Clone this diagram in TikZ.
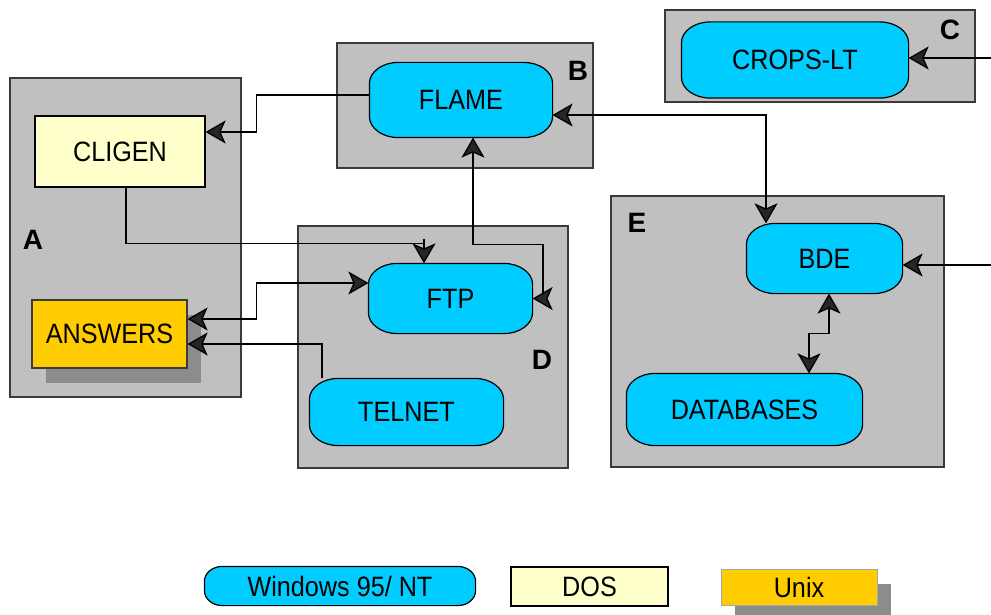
\documentclass[tikz,border=0pt]{standalone}
\usepackage{fontspec}
\newfontfamily\lblfont{Liberation Sans}[FakeStretch=0.9]
\newfontfamily\grpfont{Liberation Sans}
\usetikzlibrary{arrows.meta,shadows}
\definecolor{grpgray}{HTML}{C0C0C0}
\definecolor{winblue}{HTML}{00CCFF}
\definecolor{dosyellow}{HTML}{FFFFCC}
\definecolor{unixorange}{HTML}{FFCC00}
\definecolor{shadowgray}{HTML}{8C8C8C}
\definecolor{edgegray}{HTML}{3A3A3A}

\makeatletter
\def\stadrx{29pt}\def\stadry{21pt}
\tikzset{stad rx/.code={\def\stadrx{#1}},stad ry/.code={\def\stadry{#1}}}
\pgfdeclareshape{stadium}{%
  \inheritsavedanchors[from=rectangle]
  \inheritanchorborder[from=rectangle]
  \inheritanchor[from=rectangle]{center}
  \inheritanchor[from=rectangle]{north}
  \inheritanchor[from=rectangle]{south}
  \inheritanchor[from=rectangle]{east}
  \inheritanchor[from=rectangle]{west}
  \inheritanchor[from=rectangle]{north east}
  \inheritanchor[from=rectangle]{north west}
  \inheritanchor[from=rectangle]{south east}
  \inheritanchor[from=rectangle]{south west}
  \inheritanchor[from=rectangle]{base}
  \inheritanchor[from=rectangle]{mid}
  \backgroundpath{%
    \southwest \pgf@xa=\pgf@x \pgf@ya=\pgf@y
    \northeast \pgf@xb=\pgf@x \pgf@yb=\pgf@y
    \pgfmathsetlength\pgf@xc{\stadrx}%
    \pgfmathsetlength\pgf@yc{\stadry}%
    \advance\pgf@xa by \pgf@xc
    \advance\pgf@xb by -\pgf@xc
    \advance\pgf@ya by \pgf@yc
    \advance\pgf@yb by -\pgf@yc
    \edef\st@xa{\the\pgf@xa}\edef\st@xb{\the\pgf@xb}%
    \edef\st@ya{\the\pgf@ya}\edef\st@yb{\the\pgf@yb}%
    \edef\st@rx{\the\pgf@xc}\edef\st@ry{\the\pgf@yc}%
    \pgfpathmoveto{\pgfpoint{\st@xa}{\st@yb+\st@ry}}%
    \pgfpathlineto{\pgfpoint{\st@xb}{\st@yb+\st@ry}}%
    \pgfpatharc{90}{0}{\st@rx and \st@ry}%
    \pgfpathlineto{\pgfpoint{\st@xb+\st@rx}{\st@ya}}%
    \pgfpatharc{0}{-90}{\st@rx and \st@ry}%
    \pgfpathlineto{\pgfpoint{\st@xa}{\st@ya-\st@ry}}%
    \pgfpatharc{270}{180}{\st@rx and \st@ry}%
    \pgfpathlineto{\pgfpoint{\st@xa-\st@rx}{\st@yb}}%
    \pgfpatharc{180}{90}{\st@rx and \st@ry}%
    \pgfpathclose
  }%
}
\makeatother

\begin{document}
\begin{tikzpicture}[x=1pt,y=-1pt,
  group/.style={draw=edgegray,line width=1.6pt,fill=grpgray,inner sep=0pt},
  grouplabel/.style={font=\grpfont\bfseries\fontsize{28}{30}\selectfont,inner sep=0pt},
  lbltext/.style={font=\lblfont\fontsize{28}{30}\selectfont,inner sep=0pt},
  proc/.style={lbltext,shape=stadium,draw=black,line width=1.2pt,fill=winblue},
  dosbox/.style={lbltext,draw=black,line width=1.2pt,fill=dosyellow},
  unixbox/.style={lbltext,draw=edgegray,line width=1.2pt,fill=unixorange,
    drop shadow={shadow xshift=14pt,shadow yshift=-15pt,fill=shadowgray,opacity=1}},
  plainline/.style={draw=black,line width=1.3pt},
  conn/.style={plainline,
    -{Stealth[length=20pt,width=23pt,inset=5pt,fill=black!85]}},
  biconn/.style={plainline,
    {Stealth[length=20pt,width=23pt,inset=5pt,fill=black!85]}-{Stealth[length=20pt,width=23pt,inset=5pt,fill=black!85]}}
]
\useasboundingbox (0,0) rectangle (991,615);

% groups
\node[group,minimum width=231pt,minimum height=319pt] (grpA) at (125.5,237.5) {};
\node[group,minimum width=256pt,minimum height=125pt] (grpB) at (465,105.5) {};
\node[group,minimum width=310pt,minimum height=92pt] (grpC) at (820,56) {};
\node[group,minimum width=270pt,minimum height=242pt] (grpD) at (433,347) {};
\node[group,minimum width=333pt,minimum height=271pt] (grpE) at (777.5,331.5) {};

\node[grouplabel] (labA) at (33,240) {A};
\node[grouplabel] (labB) at (578,71) {B};
\node[grouplabel] (labC) at (950,30) {C};
\node[grouplabel] (labD) at (542,360) {D};
\node[grouplabel] (labE) at (637,223) {E};

% components
\node[dosbox,minimum width=170pt,minimum height=71pt] (cligen) at (120,151.5) {CLIGEN};
\node[unixbox,minimum width=155pt,minimum height=68pt] (answers) at (109.5,334) {ANSWERS};
\node[proc,minimum width=182pt,minimum height=74pt] (flame) at (461,100) {FLAME};
\node[proc,minimum width=226pt,minimum height=75pt] (crops) at (795,60) {CROPS-LT};
\node[proc,minimum width=163pt,minimum height=69pt] (ftp) at (450.5,298.5) {FTP};
\node[proc,minimum width=193pt,minimum height=66pt] (telnet) at (406.5,412) {TELNET};
\node[proc,minimum width=155pt,minimum height=69pt] (bde) at (824.5,258.5) {BDE};
\node[proc,minimum width=235pt,minimum height=71pt] (db) at (744.5,409.5) {DATABASES};

% connectors
\draw[conn] ([yshift=5pt]flame.west) -- ++(-113,0) |- ([yshift=19.5pt]cligen.east);
\coordinate (ftptopcorner) at ([xshift=-26.5pt,yshift=20pt]ftp.north);
\coordinate (ftptopstart) at ([xshift=-26.5pt,yshift=24pt]ftp.north);
\draw[plainline] ([xshift=6pt]cligen.south) |- (ftptopcorner);
\draw[conn] (ftptopstart) -- ([xshift=-26.5pt]ftp.north);
\draw[biconn] ([yshift=15.5pt]ftp.west) -- ++(-112,0) |- ([yshift=15pt]answers.east);
\draw[conn] ([xshift=-84.5pt]telnet.north) |- ([yshift=-10pt]answers.east);
\draw[biconn] ([xshift=12pt]flame.south) -- ++(0,107) -| ([xshift=10.5pt]ftp.east) -- (ftp.east);
\draw[biconn] ([yshift=-15pt]flame.east) -| ([xshift=-58.5pt]bde.north);
\draw[biconn] ([xshift=4.5pt]bde.south) -- ++(0,40) -| ([xshift=64.5pt]db.north);
\coordinate (inE) at (991,265);
\coordinate (inC) at (991,58);
\draw[conn] (inE) -- ([yshift=-6.5pt]bde.east);
\draw[conn] (inC) -- ([yshift=2pt]crops.east);

% legend
\node[proc,stad rx=18pt,stad ry=15pt,minimum width=270pt,minimum height=38pt] (lgwin) at (340,586) {Windows 95/ NT};
\node[dosbox,minimum width=157pt,minimum height=39pt] (lgdos) at (589.5,586.5) {DOS};
\node[unixbox,draw=gray!70,line width=0.8pt,minimum width=156pt,minimum height=36pt] (lgunix) at (799,587) {Unix};
\end{tikzpicture}
\end{document}
